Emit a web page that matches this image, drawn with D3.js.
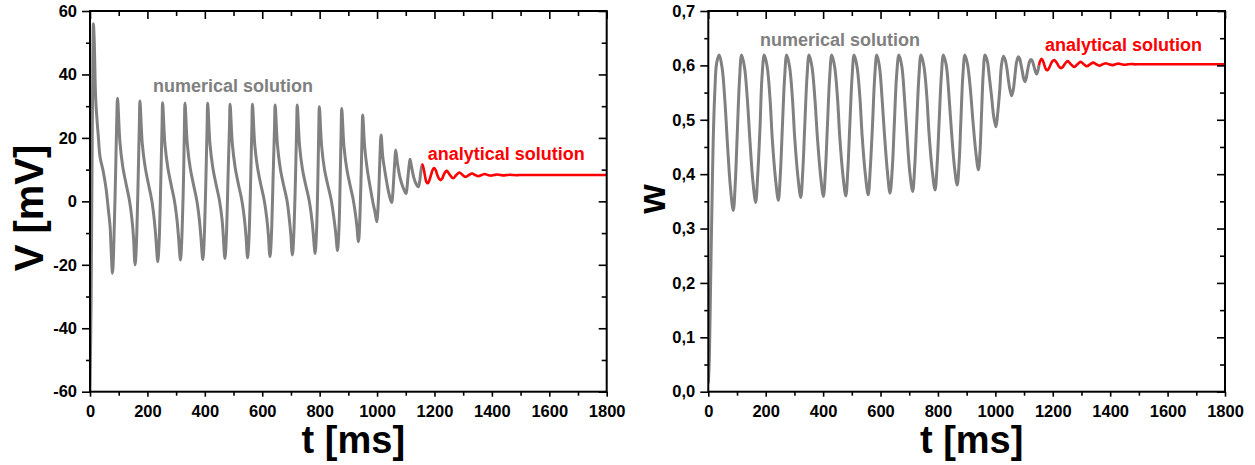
<!DOCTYPE html>
<html><head><meta charset="utf-8">
<script src="https://cdn.jsdelivr.net/npm/d3@7"></script>
<style>body{margin:0;background:#fff}svg{display:block}</style>
</head><body>
<svg id="c" width="1255" height="465"></svg>
<script>
// ---------- data ----------
const tTicksMajor = [0,200,400,600,800,1000,1200,1400,1600,1800];
const tTicksMinor = [100,300,500,700,900,1100,1300,1500,1700];
const vTicksMajor = [-60,-40,-20,0,20,40,60];
const vTicksMinor = [-50,-30,-10,10,30,50];
const wTicksMajor = [0,0.1,0.2,0.3,0.4,0.5,0.6,0.7];
const wTicksMinor = [0.05,0.15,0.25,0.35,0.45,0.55,0.65];

const vNumerical = [
[0,-60],[4,-30],[7,10],[10,45],[12,56],[15,50],[20,32],[29,20.4],[35,14],[46,9.5],[56,4],[64,-2.7],[70,-8],[73,-14],[76,-20],[78,-22.7],
[80,-21],[84,-10],[89,8],[93,25],[96,32.5],
[104,19],[114,11],[125,5.8],[137,0.5],[146,-5.5],[152,-12],[155,-18],[157,-20],
[159,-18.5],[163,-10],[168,8],[172,25],[174,31.6],
[182,18.3],[192,10.9],[203,5.7],[215,0.4],[224,-5.9],[230,-12.2],[234,-17.5],[236,-19],
[238,-17.5],[242,-10],[247,8],[251,24],[253,31.1],
[261,18],[271,10.7],[282,5.5],[294,0.3],[303,-5.8],[309,-12],[313,-17],[315,-18.5],
[317,-17],[321,-9],[326,8],[329,24],[331,30.9],
[339,18],[349,10.6],[360,5.5],[372,0.3],[381,-5.8],[387,-12],[391,-17],[393,-18.3],
[395,-17],[399,-9],[404,8],[408,24],[410,30.9],
[418,18],[428,10.5],[439,5.4],[451,0.3],[460,-5.7],[465,-11.8],[468,-16.5],[470,-18],
[472,-16.5],[476,-9],[481,8],[486,24],[488,30.6],
[496,18],[506,10.5],[517,5.4],[529,0.3],[538,-5.6],[544,-11.6],[547,-16.3],[549,-17.8],
[551,-16.3],[555,-9],[560,8],[564,24],[566,30.6],
[574,17.8],[584,10.4],[595,5.3],[607,0.3],[616,-5.5],[622,-11.3],[625,-16],[627,-17.4],
[629,-16],[633,-8.5],[638,8],[643,24],[645,30.4],
[653,17.8],[663,10.3],[674,5.3],[686,0.4],[694,-5.3],[700,-11],[703,-15.5],[705,-16.9],
[707,-15.5],[711,-8],[716,8],[720,24],[722,30.4],
[730,17.6],[740,10.2],[751,5.3],[763,0.5],[772,-5],[778,-10.5],[782,-15],[784,-16.4],
[786,-15],[790,-7.5],[794,8],[797,23],[799,29.8],
[807,17.3],[817,10],[828,5.3],[840,0.6],[849,-4.8],[856,-10],[860,-14.2],[862,-15.5],
[864,-14.2],[868,-7],[872,9],[875,23],[877,29.3],
[885,17],[895,10],[905,5.5],[916,1],[924,-3.5],[930,-8],[933,-11.5],[935,-12.7],
[937,-11.5],[941,-3],[945,10],[948,22],[950,27.2],
[957,17],[966,10],[976,4.5],[986,-0.5],[993,-3.5],[999,-6.4],
[1002,-4],[1006,3],[1010,14],[1014,20.9],
[1020,14],[1030,8],[1040,3],[1047,0.5],[1051,-0.4],
[1054,1.5],[1058,7],[1062,13],[1065,16.2],
[1071,12],[1080,7.5],[1090,4.5],[1097,3],[1101,2.5],
[1104,4],[1108,8],[1112,11.5],[1115,13.3],
[1120,11],[1128,7.5],[1136,5.5],[1141,4.8],[1144,4.6],
[1148,6],[1152,9],[1156,11.3]
];
const vAnalytical = [
[1156,11.3],[1158,11.6],[1163,10],[1168,7.5],[1172,6.1],[1177,5.7],[1182,6.6],[1188,8.3],[1194,10],[1199,10.5],
[1205,9.7],[1210,8.3],[1216,7.1],[1221,6.7],[1227,7.2],[1232,8.3],[1238,9.3],[1243,9.6],[1254,8.3],[1265,7.3],
[1276,8.3],[1287,9.1],[1298,8.3],[1309,7.7],[1320,8.3],[1331,8.8],[1342,8.3],[1353,7.95],[1364,8.3],[1375,8.6],
[1386,8.3],[1397,8.1],[1408,8.3],[1419,8.45],[1430,8.3],[1441,8.2],[1452,8.3],[1463,8.37],[1474,8.3],[1485,8.25],
[1496,8.3],[1520,8.3],[1800,8.3]
];
const wNumerical = [
[0,0.015],[3,0.05],[6,0.13],[9,0.23],[12,0.32],[17,0.46],[23,0.555],[29,0.604],[38,0.619],
[48,0.596],[58,0.533],[67,0.453],[77,0.376],[87,0.333],
[94,0.384],[101,0.476],[109,0.576],[116,0.619],
[126,0.597],[136,0.538],[145,0.462],[155,0.389],[165,0.348],
[172,0.397],[180,0.484],[187,0.578],[195,0.619],
[205,0.598],[215,0.539],[223,0.464],[234,0.392],[244,0.352],
[251,0.400],[258,0.486],[266,0.579],[273,0.619],
[283,0.598],[293,0.540],[301,0.467],[312,0.396],[322,0.357],
[329,0.404],[336,0.488],[344,0.580],[351,0.619],
[361,0.598],[371,0.541],[380,0.468],[391,0.398],[401,0.359],
[408,0.406],[415,0.489],[423,0.580],[430,0.619],
[440,0.598],[450,0.541],[458,0.468],[469,0.398],[479,0.360],
[486,0.407],[493,0.490],[501,0.580],[508,0.619],
[518,0.598],[528,0.542],[536,0.470],[547,0.400],[557,0.362],
[564,0.408],[572,0.490],[580,0.581],[587,0.619],
[596,0.599],[605,0.542],[614,0.471],[624,0.404],[633,0.365],
[641,0.411],[648,0.492],[656,0.581],[664,0.619],
[674,0.599],[683,0.543],[692,0.473],[702,0.403],[712,0.368],
[719,0.413],[726,0.494],[734,0.582],[741,0.619],
[751,0.599],[761,0.545],[769,0.475],[780,0.407],[790,0.371],
[797,0.416],[804,0.495],[812,0.582],[819,0.619],
[829,0.600],[838,0.547],[847,0.480],[857,0.416],[867,0.380],
[874,0.423],[880,0.500],[887,0.583],[894,0.619],
[903,0.602],[913,0.556],[922,0.497],[932,0.440],[941,0.408],
[947,0.446],[952,0.513],[958,0.587],[964,0.619],
[972,0.608],[979,0.579],[987,0.542],[994,0.507],[1002,0.487],
[1008,0.511],[1015,0.553],[1021,0.599],[1028,0.617],
[1034,0.611],[1040,0.595],[1045,0.575],[1051,0.555],[1057,0.544],
[1063,0.557],[1068,0.580],[1074,0.606],[1080,0.616],
[1085,0.612],[1089,0.602],[1094,0.589],[1098,0.577],[1103,0.570],
[1108,0.578],[1113,0.593],[1119,0.607],[1124,0.611],
[1128,0.609],[1132,0.603],[1136,0.595],[1140,0.588],[1144,0.584],
[1148,0.590],[1152,0.600]
];
const wAnalytical = [
[1152,0.600],[1156,0.608],[1161,0.612],[1166,0.608],[1171,0.600],[1176,0.593],[1181,0.591],[1187,0.595],[1193,0.602],
[1199,0.608],[1205,0.610],[1211,0.607],[1217,0.602],[1223,0.597],[1229,0.595],[1235,0.597],[1241,0.602],[1247,0.606],
[1252,0.608],[1263,0.602],[1275,0.597],[1286,0.602],[1297,0.6065],[1308,0.602],[1319,0.5985],[1330,0.602],[1341,0.605],
[1352,0.602],[1363,0.5995],[1374,0.602],[1385,0.604],[1396,0.602],[1407,0.6005],[1418,0.602],[1429,0.6032],[1440,0.602],
[1451,0.6012],[1462,0.602],[1473,0.6026],[1484,0.602],[1500,0.602],[1520,0.602],[1800,0.602]
];

// ---------- drawing ----------
const svg = d3.select("#c");
const FONT = "'Liberation Sans', Arial, sans-serif";
const GRAY = "#808080", RED = "#ff0000";

function panel(o){
  const x = d3.scaleLinear().domain([0,1800]).range([o.left, o.right]);
  const y = d3.scaleLinear().domain(o.yDomain).range([o.bottom, o.top]);
  const g = svg.append("g");
  const cid = "clip" + o.id;
  g.append("clipPath").attr("id", cid).append("rect")
    .attr("x", o.left).attr("y", o.top).attr("width", o.right-o.left).attr("height", o.bottom-o.top);

  const line = d3.line().x(d=>x(d[0])).y(d=>y(d[1])).curve(d3.curveCatmullRom.alpha(0.5));
  const lg = g.append("g").attr("clip-path", `url(#${cid})`);
  lg.append("path").datum(o.num).attr("d", line).attr("fill","none")
    .attr("stroke", GRAY).attr("stroke-width", 3).attr("stroke-linejoin","round");
  lg.append("path").datum(o.ana).attr("d", line).attr("fill","none")
    .attr("stroke", RED).attr("stroke-width", 2.6).attr("stroke-linejoin","round");

  function styleAxis(sel){
    sel.select(".domain").remove();
    sel.selectAll("line").attr("stroke","#000").attr("stroke-width",1.6);
    sel.selectAll("text").attr("font-family", FONT).attr("font-weight","bold")
      .attr("font-size", 16.5).attr("fill","#000");
  }
  // bottom
  g.append("g").attr("transform",`translate(0,${o.bottom})`)
    .call(d3.axisBottom(x).tickValues(tTicksMajor).tickSize(5).tickPadding(9).tickFormat(d=>String(d))).call(styleAxis);
  g.append("g").attr("transform",`translate(0,${o.bottom})`)
    .call(d3.axisBottom(x).tickValues(tTicksMinor).tickSize(4).tickFormat("")).call(styleAxis);
  // top (inward)
  g.append("g").attr("transform",`translate(0,${o.top})`)
    .call(d3.axisTop(x).tickValues(tTicksMajor).tickSize(-8).tickFormat("")).call(styleAxis);
  g.append("g").attr("transform",`translate(0,${o.top})`)
    .call(d3.axisTop(x).tickValues(tTicksMinor).tickSize(-5).tickFormat("")).call(styleAxis);
  // left
  g.append("g").attr("transform",`translate(${o.left},0)`)
    .call(d3.axisLeft(y).tickValues(o.yMajor).tickSize(8).tickPadding(5).tickFormat(o.yFmt)).call(styleAxis);
  g.append("g").attr("transform",`translate(${o.left},0)`)
    .call(d3.axisLeft(y).tickValues(o.yMinor).tickSize(4).tickFormat("")).call(styleAxis);
  // right (inward)
  g.append("g").attr("transform",`translate(${o.right},0)`)
    .call(d3.axisRight(y).tickValues(o.yMajor).tickSize(-8).tickFormat("")).call(styleAxis);
  g.append("g").attr("transform",`translate(${o.right},0)`)
    .call(d3.axisRight(y).tickValues(o.yMinor).tickSize(-5).tickFormat("")).call(styleAxis);

  g.append("rect").attr("x",o.left).attr("y",o.top).attr("width",o.right-o.left).attr("height",o.bottom-o.top)
    .attr("fill","none").attr("stroke","#000").attr("stroke-width",2);

  // annotations
  g.append("text").attr("x",o.numLabel[0]).attr("y",o.numLabel[1]).text("numerical solution")
    .attr("font-family",FONT).attr("font-weight","bold").attr("font-size",18).attr("fill",GRAY);
  g.append("text").attr("x",o.anaLabel[0]).attr("y",o.anaLabel[1]).text("analytical solution")
    .attr("font-family",FONT).attr("font-weight","bold").attr("font-size",18).attr("fill",RED);

  // axis titles
  g.append("text").attr("x",(o.left+o.right)/2+5).attr("y",453).attr("text-anchor","middle")
    .attr("font-family",FONT).attr("font-weight","bold").attr("font-size",38).text("t [ms]");
  g.append("text").attr("transform",`translate(${o.yTitle[0]},${o.yTitle[1]}) rotate(-90)`)
    .attr("text-anchor","middle").attr("font-family",FONT).attr("font-weight","bold")
    .attr("font-size",o.yTitleSize).text(o.yTitleText);
}

panel({id:"V", left:90, right:606.7, top:11, bottom:391.7, yDomain:[-60,60],
  yMajor:vTicksMajor, yMinor:vTicksMinor, yFmt:d=>String(d),
  num:vNumerical, ana:vAnalytical, numLabel:[153,91.5], anaLabel:[427.7,159.5],
  yTitle:[43,208], yTitleText:"V [mV]", yTitleSize:40});

panel({id:"W", left:708.3, right:1225, top:11, bottom:391.7, yDomain:[0,0.7],
  yMajor:wTicksMajor, yMinor:wTicksMinor, yFmt:d=>d3.format(".1f")(d).replace(".",","),
  num:wNumerical, ana:wAnalytical, numLabel:[760,45.5], anaLabel:[1045,51],
  yTitle:[665,199], yTitleText:"w", yTitleSize:38});
</script>
</body></html>
